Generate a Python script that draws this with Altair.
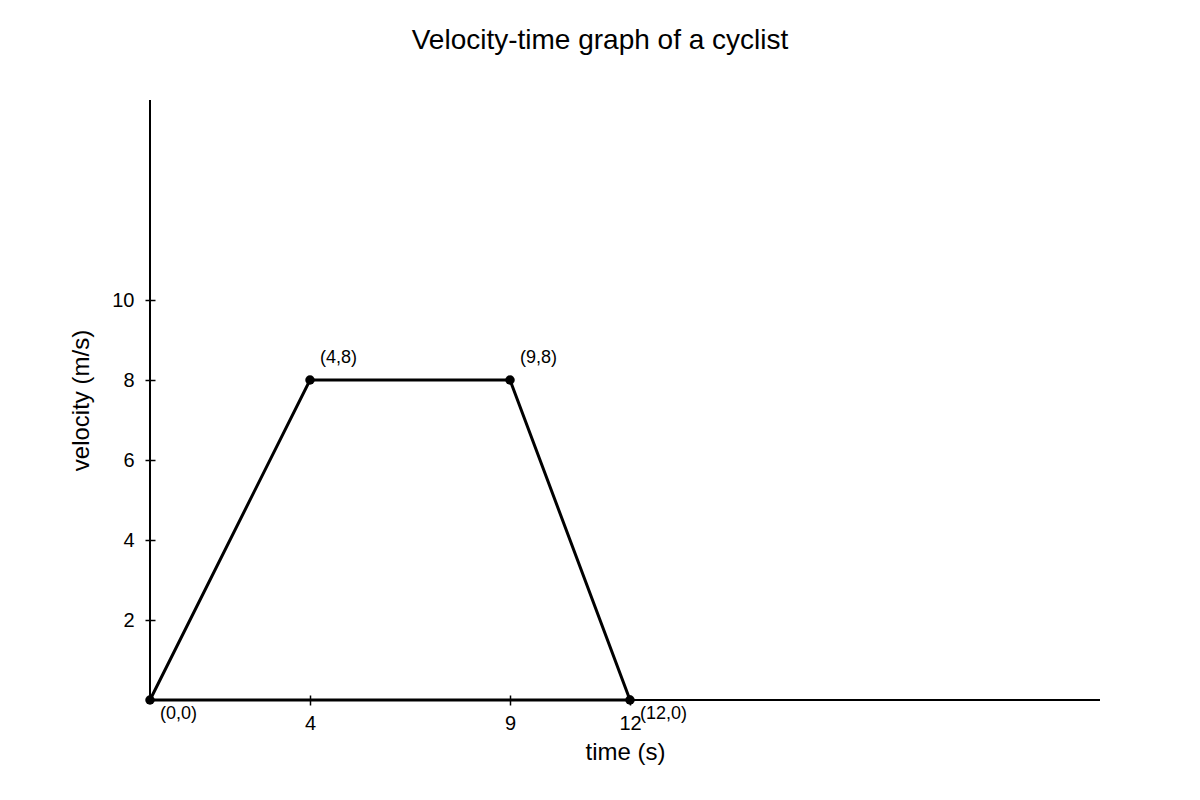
import altair as alt
import pandas as pd

# corner points of the velocity-time trace
TIMES = [0, 4, 9, 12]
VELOCITIES = [0, 8, 8, 0]
POINT_LABELS = ['(0,0)', '(4,8)', '(9,8)', '(12,0)']

X_TICKS = [4, 9, 12]
Y_TICKS = [2, 4, 6, 8, 10]
X_MAX = 23.75
Y_MAX = 15

FONT = 'Liberation Sans'

points = pd.DataFrame({'t': TIMES, 'v': VELOCITIES, 'label': POINT_LABELS})
# close the shape back to the origin along the time axis
outline = pd.DataFrame({
    't': TIMES + [TIMES[0]],
    'v': VELOCITIES + [VELOCITIES[0]],
    'step': list(range(len(TIMES) + 1)),
})

x_scale = alt.Scale(domain=[0, X_MAX], nice=False, zero=True)
y_scale = alt.Scale(domain=[0, Y_MAX], nice=False, zero=True)

x_axis = alt.Axis(values=X_TICKS, grid=False, domain=False,
                  offset=-5, tickSize=10, tickWidth=1.5,
                  tickColor='black', labelFontSize=20,
                  labelPadding=8, labelColor='black', labelFont=FONT,
                  titleFontSize=24, titleFontWeight='normal', titleFont=FONT,
                  titlePadding=7, titleColor='black')
y_axis = alt.Axis(values=Y_TICKS, grid=False, domain=False,
                  offset=-5, tickSize=10, tickWidth=1.5,
                  tickColor='black', labelFontSize=20,
                  labelPadding=11, labelColor='black', labelFont=FONT,
                  titleFontSize=24, titleFontWeight='normal', titleFont=FONT,
                  titlePadding=18, titleColor='black')


def xy():
    return dict(
        x=alt.X('t:Q', scale=x_scale, title='time (s)', axis=x_axis),
        y=alt.Y('v:Q', scale=y_scale, title='velocity (m/s)', axis=y_axis),
    )


base = alt.Chart(points)

# axis lines drawn as rules spanning the full scale
x_line = base.mark_rule(color='black', strokeWidth=2).encode(
    x=alt.value(0), x2=alt.value(950), y=alt.value(600))
y_line = base.mark_rule(color='black', strokeWidth=2).encode(
    x=alt.value(0), y=alt.value(0), y2=alt.value(600))

trace = alt.Chart(outline).mark_line(color='black', strokeWidth=3).encode(
    order='step:O', **xy())

dots = base.mark_circle(color='black', opacity=1, size=90).encode(**xy())

labels_above = base.transform_filter('datum.v > 0').mark_text(
    align='left', baseline='middle', dx=10, dy=-22, fontSize=18,
    font=FONT, color='black').encode(text='label:N', **xy())
labels_below = base.transform_filter('datum.v == 0').mark_text(
    align='left', baseline='middle', dx=10, dy=14, fontSize=18,
    font=FONT, color='black').encode(text='label:N', **xy())

chart = alt.layer(
    trace, x_line, y_line, dots, labels_above, labels_below
).properties(
    width=950,
    height=600,
    autosize=alt.AutoSizeParams(type='none'),
    padding={'left': 142, 'top': 92, 'right': 92, 'bottom': 92},
    title=alt.TitleParams('Velocity-time graph of a cyclist', fontSize=28,
                          fontWeight='normal', font=FONT, color='black',
                          anchor='middle', dx=-25, offset=22,
                          baseline='alphabetic'),
).configure(
    font=FONT
).configure_axis(
    labelFontSize=20,
    labelFont=FONT
).configure_view(
    stroke='transparent'
)

chart.save("out.html", embed_options={"renderer": "svg", "actions": False})
